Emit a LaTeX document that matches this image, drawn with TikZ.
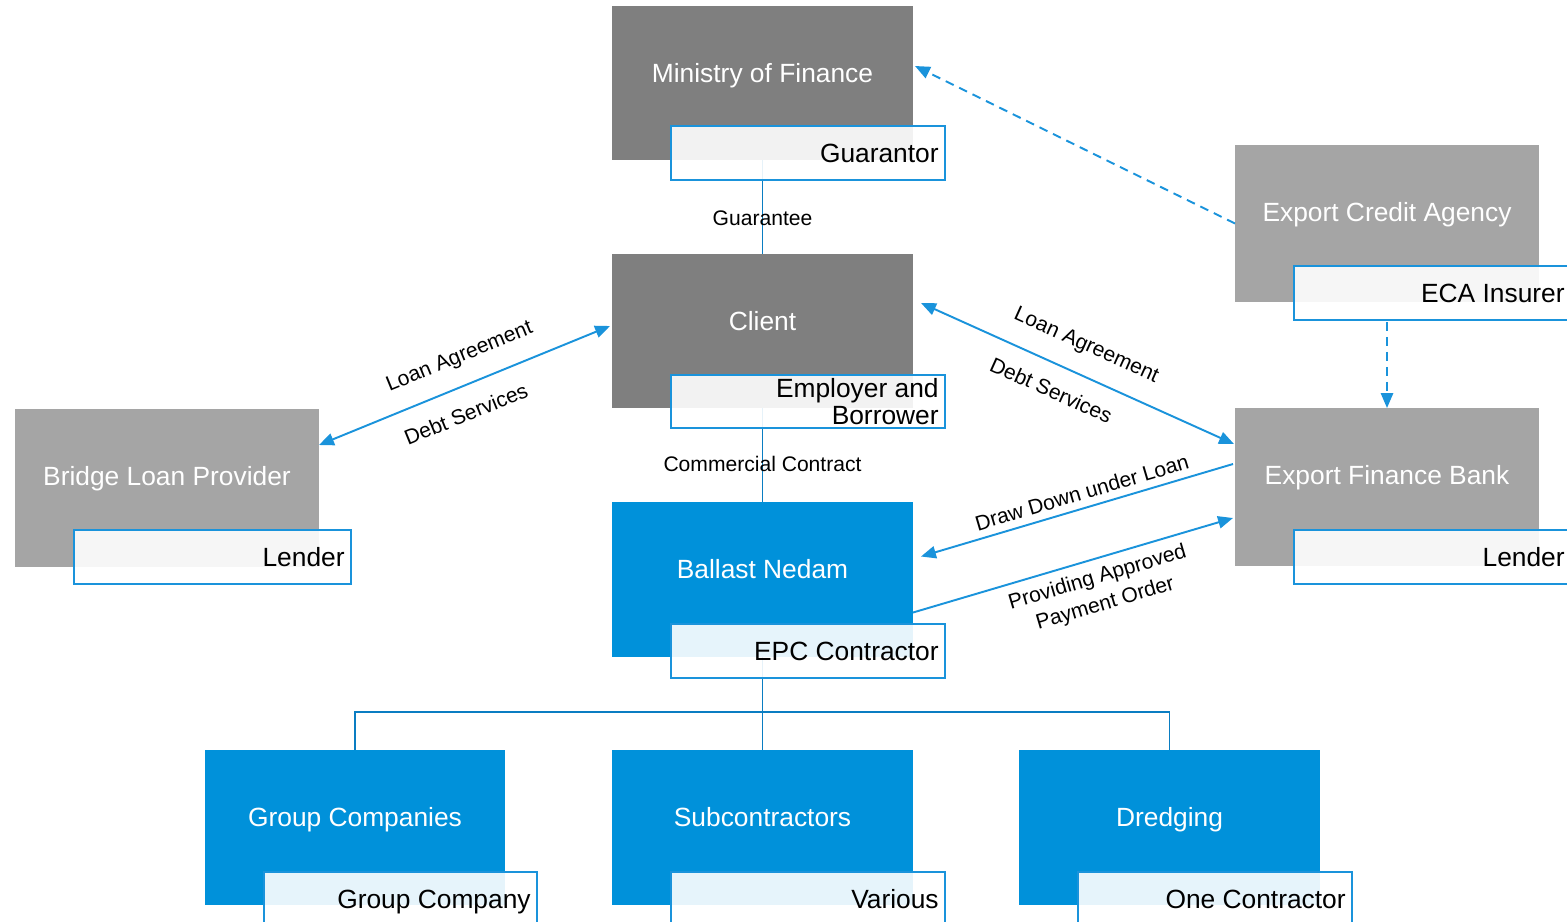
\documentclass[tikz,border=0pt]{standalone}
\usepackage{fontspec}
\setmainfont{Liberation Sans}
\usetikzlibrary{fit,arrows.meta,backgrounds}
\definecolor{dgrey}{HTML}{7F7F7F}
\definecolor{lgrey}{HTML}{A5A5A5}
\definecolor{nblue}{HTML}{0091DA}
\definecolor{lineblue}{HTML}{1A93DB}
\definecolor{treeblue}{HTML}{0A7DC2}
\tikzset{
  box/.style={inner sep=0pt, outer sep=0pt, draw=none},
  labbox/.style={inner sep=0pt, outer sep=0pt, fill=white, fill opacity=0.9, draw=lineblue, line width=1.4pt},
  titletext/.style={anchor=base, text=white, font=\fontsize{15}{18}\selectfont, inner sep=0pt},
  labtext/.style={anchor=base east, text=black, align=right, font=\fontsize{15}{15.5}\selectfont, inner sep=0pt},
  conn/.style={draw=lineblue, line width=1.1pt},
  treeline/.style={draw=treeblue, line width=1.1pt},
  tip/.style={-{Triangle[length=8.5pt,width=7pt]}},
  dtip/.style={{Triangle[length=8.5pt,width=7pt]}-{Triangle[length=8.5pt,width=7pt]}},
  dashconn/.style={conn, dash pattern=on 5pt off 3.5pt},
  clabel/.style={font=\fontsize{12}{15.5}\selectfont, text=black, align=center}
}
% id, x1, y1, x2, y2, fill, title, label top, label text
\newcommand\entity[9]{%
  \node[box, fill=#6, fit={(#2,#3) (#4,#5)}] (#1) {};
  \node[titletext] (#1-t) at ([shift={(0,76)}]#1.north) {#7};
  \node[labbox, fit={(#2+59,#8) (#4+32,#8+54)}] (#1-l) {};
  \node[labtext] (#1-lt) at ([shift={(-6,36.5)}]#1-l.north east) {#9};
}
\begin{document}
\begin{tikzpicture}[x=0.02cm, y=-0.02cm]
\useasboundingbox (0,0) rectangle (1567,921);

\entity{mof}{612}{6}{913}{160}{dgrey}{Ministry of Finance}{126}{Guarantor}
% client (two-line label)
\node[box, fill=dgrey, fit={(612,254) (913,408)}] (client) {};
\node[titletext] (client-t) at ([shift={(0,76)}]client.north) {Client};
\node[labbox, fit={(671,375) (945,428)}] (client-l) {};
\node[labtext, anchor=east] (client-lt) at ([shift={(-6,0)}]client-l.east) {Employer and\\Borrower};

\entity{ballast}{612}{502}{913}{657}{nblue}{Ballast Nedam}{624}{EPC Contractor}
\entity{eca}{1235}{145}{1539}{302}{lgrey}{Export Credit Agency}{266}{ECA Insurer}
\entity{efb}{1235}{408}{1539}{566}{lgrey}{Export Finance Bank}{530}{Lender}
\entity{bridge}{15}{409}{319}{567}{lgrey}{Bridge Loan Provider}{530}{Lender}
\entity{gc}{205}{750}{505}{905}{nblue}{Group Companies}{872}{Group Company}
\entity{sub}{612}{750}{913}{905}{nblue}{Subcontractors}{872}{Various}
\entity{dr}{1019}{750}{1320}{905}{nblue}{Dredging}{872}{One Contractor}

\coordinate (j) at (762.5,712);

\begin{pgfonlayer}{background}
  % vertical contracts
  \draw[treeline] (mof.south) -- node[clabel, pos=0.62] {Guarantee} (client.north);
  \draw[treeline] (client.south) -- node[clabel, pos=0.6] {Commercial Contract} (ballast.north);
  % tree
  \draw[treeline] (ballast.south) -- (j);
  \draw[treeline] (gc.north) -- (gc.north |- j) -- (dr.north |- j) -- (dr.north);
  \draw[treeline] (j) -- (sub.north);
\end{pgfonlayer}

% dashed ECA connectors
\draw[dashconn, tip] (eca.west) -- ([shift={(2,-17)}]mof.east);
\draw[dashconn, tip] ([shift={(0,2)}]eca.south |- eca-l.south) -- (efb.north);

% bridge loan
\draw[conn, dtip] ([shift={(0,-43)}]bridge.east) --
  node[clabel, sloped, above=6.5pt, pos=0.52] {Loan Agreement}
  node[clabel, sloped, below=7pt, pos=0.47] {Debt Services}
  ([shift={(-2,-5)}]client.west);

% client - export finance bank
\draw[conn, dtip] ([shift={(8,-28)}]client.east) --
  node[clabel, sloped, above=7pt, pos=0.49] {Loan Agreement}
  node[clabel, sloped, below=6.5pt, pos=0.45] {Debt Services}
  ([shift={(-1,-43)}]efb.west);

% draw down
\draw[conn, tip] ([shift={(-2,-23)}]efb.west) --
  ([shift={(8,-23)}]ballast.east);
\path ([shift={(8,-23)}]ballast.east) --
  node[clabel, sloped, above=1pt, pos=0.53] {Draw Down under Loan}
  ([shift={(-2,-23)}]efb.west);

% payment order
\draw[conn, tip] ([shift={(0,33)}]ballast.east) --
  node[clabel, sloped, below=1.5pt, pos=0.56] {Providing Approved\\Payment Order}
  ([shift={(-2,31)}]efb.west);
\end{tikzpicture}
\end{document}
